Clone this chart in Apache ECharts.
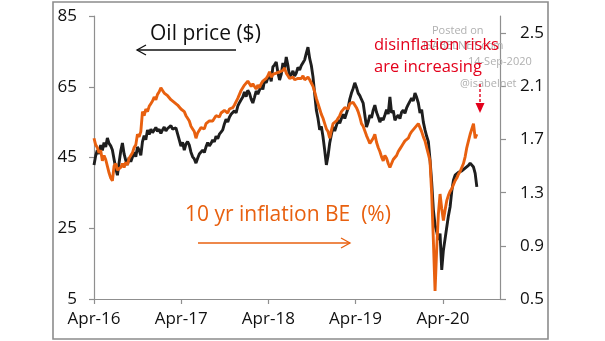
<!DOCTYPE html>
<html>
<head>
<meta charset="utf-8">
<script src="https://cdn.jsdelivr.net/npm/echarts@6/dist/echarts.min.js"></script>
<style>
  html, body { margin: 0; padding: 0; background: #fff; }
  #chart { width: 605px; height: 341px; }
</style>
</head>
<body>
<div id="chart"></div>
<script>
// Weekly observations starting on the first week of April 2016
const seriesStart = '2016-04-01';

// WTI oil price, US$ (left axis)
const oilPrice = [
  42.9, 45.5, 47.1, 46.0, 48.5, 47.0, 49.2, 48.0, 50.5, 49.0,
  48.3, 47.1, 44.5, 42.0, 40.0, 43.5, 46.8, 49.1, 46.0, 44.2,
  42.9, 45.0, 43.8, 44.3, 46.5, 45.2, 48.0, 47.1, 45.6, 49.5,
  51.2, 50.0, 52.8, 51.5, 53.0, 52.0, 52.2, 53.5, 52.4, 53.0,
  51.8, 52.8, 53.6, 52.5, 53.2, 52.8, 54.0, 53.0, 52.6, 53.4,
  53.6, 50.0, 48.2, 49.3, 47.1, 48.8, 49.5, 48.5, 46.5, 45.2,
  44.6, 43.4, 44.8, 46.0, 45.5, 47.1, 46.4, 48.0, 49.2, 48.3,
  49.0, 50.0, 49.4, 51.0, 50.3, 51.6, 52.2, 52.8, 54.5, 55.8,
  55.0, 56.4, 57.2, 56.8, 58.2, 57.6, 59.5, 60.5, 61.3, 62.1,
  63.5, 62.2, 64.0, 63.2, 61.5, 60.4, 62.0, 63.8, 62.9, 64.1,
  65.5, 64.2, 66.8, 66.1, 67.5, 68.5, 66.5, 70.6, 71.2, 72.0,
  69.0, 66.9, 68.5, 71.7, 70.0, 73.4, 71.0, 67.8, 68.4, 69.5,
  68.0, 68.9, 70.5, 69.7, 71.0, 71.8, 72.6, 74.5, 76.2, 73.0,
  71.0, 67.8, 63.0, 58.4, 56.0, 52.8, 53.8, 50.8, 47.0, 42.9,
  45.5, 49.1, 51.5, 53.6, 52.5, 54.0, 55.5, 54.7, 56.0, 57.2,
  56.0, 56.4, 59.0, 61.5, 63.2, 64.5, 66.1, 64.8, 63.2, 62.5,
  61.4, 60.4, 57.0, 53.6, 55.0, 57.0, 56.2, 58.4, 59.8, 57.8,
  56.5, 55.0, 56.2, 55.6, 57.0, 58.5, 57.3, 62.1, 57.6, 58.3,
  55.5, 56.4, 57.0, 56.0, 57.8, 58.4, 57.5, 59.0, 60.0, 60.4,
  61.8, 61.0, 63.2, 62.0, 60.4, 57.6, 58.5, 55.0, 52.8, 51.0,
  49.5, 44.3, 38.0, 30.2, 25.9, 24.0, 21.7, 23.5, 13.2, 18.8,
  22.0, 25.3, 28.5, 31.0, 35.5, 38.6, 40.0, 39.5, 40.8, 40.6,
  41.2, 41.5, 42.0, 42.3, 42.8, 43.4, 43.0, 42.3, 40.5, 36.7
];

// 10-year inflation breakeven, % (right axis)
const inflationBE = [
  1.71, 1.66, 1.64, 1.60, 1.62, 1.54, 1.58, 1.55, 1.56, 1.45,
  1.41, 1.39, 1.50, 1.52, 1.47, 1.46, 1.49, 1.52, 1.49, 1.53,
  1.51, 1.56, 1.58, 1.60, 1.64, 1.66, 1.74, 1.72, 1.76, 1.91,
  1.88, 1.93, 1.91, 1.95, 1.97, 1.99, 2.02, 2.00, 2.04, 2.06,
  2.09, 2.07, 2.05, 2.06, 2.03, 2.04, 2.00, 2.01, 1.98, 1.99,
  1.96, 1.97, 1.93, 1.94, 1.91, 1.88, 1.86, 1.84, 1.80, 1.78,
  1.76, 1.71, 1.75, 1.77, 1.79, 1.80, 1.78, 1.82, 1.81, 1.84,
  1.83, 1.84, 1.86, 1.88, 1.89, 1.87, 1.90, 1.89, 1.92, 1.91,
  1.90, 1.93, 1.92, 1.94, 1.96, 1.97, 2.01, 2.04, 2.07, 2.09,
  2.11, 2.12, 2.14, 2.12, 2.10, 2.12, 2.10, 2.08, 2.11, 2.09,
  2.12, 2.14, 2.13, 2.16, 2.18, 2.21, 2.17, 2.19, 2.18, 2.20,
  2.19, 2.21, 2.20, 2.22, 2.24, 2.20, 2.18, 2.16, 2.15, 2.17,
  2.15, 2.14, 2.16, 2.15, 2.16, 2.18, 2.15, 2.16, 2.17, 2.15,
  2.14, 2.10, 2.06, 2.01, 1.97, 1.93, 1.89, 1.86, 1.82, 1.78,
  1.76, 1.71, 1.77, 1.82, 1.81, 1.84, 1.86, 1.88, 1.91, 1.90,
  1.94, 1.95, 1.93, 1.97, 1.96, 1.98, 1.97, 1.94, 1.91, 1.87,
  1.82, 1.80, 1.79, 1.73, 1.70, 1.67, 1.69, 1.71, 1.74, 1.68,
  1.64, 1.61, 1.57, 1.54, 1.58, 1.56, 1.52, 1.49, 1.52, 1.55,
  1.54, 1.58, 1.61, 1.63, 1.65, 1.67, 1.69, 1.68, 1.71, 1.74,
  1.76, 1.77, 1.79, 1.80, 1.82, 1.79, 1.76, 1.72, 1.69, 1.64,
  1.59, 1.54, 1.29, 0.94, 0.56, 0.88, 1.14, 1.29, 1.18, 1.09,
  1.17, 1.24, 1.28, 1.31, 1.33, 1.36, 1.39, 1.41, 1.44, 1.46,
  1.49, 1.52, 1.57, 1.64, 1.69, 1.74, 1.78, 1.82, 1.71, 1.74
];

// Axis tick labels
const oilTicks = [5, 25, 45, 65, 85];
const beTicks = [0.5, 0.9, 1.3, 1.7, 2.1, 2.5];
const dateTicks = ['2016-04-01', '2017-04-01', '2018-04-01', '2019-04-01', '2020-04-01'];
const axisEnd = '2020-11-26';

const MONTHS = ['Jan','Feb','Mar','Apr','May','Jun','Jul','Aug','Sep','Oct','Nov','Dec'];
const WEEK = 7 * 86400000;
const t0 = Date.parse(seriesStart);
const toPairs = arr => arr.map((v, i) => [t0 + i * WEEK, v]);
const tickTimes = dateTicks.map(d => Date.parse(d));

const FONT = '"Open Sans", "Liberation Sans", sans-serif';
const AXIS_GREY = '#8f8f8f';
const ORANGE = '#E8600F';
const RED = '#E3001B';

const chart = echarts.init(document.getElementById('chart'), null, { renderer: 'canvas' });

chart.setOption({
  animation: false,
  backgroundColor: '#fff',
  grid: { left: 94, right: 105, top: 16, bottom: 42, containLabel: false },
  xAxis: {
    type: 'value',
    min: t0,
    max: Date.parse(axisEnd),
    splitLine: { show: false },
    axisLine: { show: true, lineStyle: { color: AXIS_GREY, width: 1.2 } },
    axisTick: { show: true, customValues: tickTimes, length: 5, lineStyle: { color: AXIS_GREY, width: 1.2 } },
    axisLabel: {
      customValues: tickTimes,
      margin: 12,
      color: '#111',
      fontFamily: FONT,
      fontSize: 17,
      formatter: v => {
        const d = new Date(v);
        return MONTHS[d.getUTCMonth()] + '-' + String(d.getUTCFullYear()).slice(2);
      }
    }
  },
  yAxis: [
    {
      type: 'value',
      position: 'left',
      min: 5,
      max: 85,
      splitLine: { show: false },
      axisLine: { show: true, lineStyle: { color: AXIS_GREY, width: 1.2 } },
      axisTick: { show: true, customValues: oilTicks, length: 5, lineStyle: { color: AXIS_GREY, width: 1.2 } },
      axisLabel: { customValues: oilTicks, margin: 17, color: '#111', fontFamily: FONT, fontSize: 17 }
    },
    {
      type: 'value',
      position: 'right',
      min: 0.5,
      max: 2.63,
      splitLine: { show: false },
      axisLine: { show: true, lineStyle: { color: AXIS_GREY, width: 1.2 } },
      axisTick: { show: true, customValues: beTicks, length: 6, lineStyle: { color: AXIS_GREY, width: 1.2 } },
      axisLabel: {
        customValues: beTicks, margin: 20, color: '#111', fontFamily: FONT, fontSize: 17,
        formatter: v => v.toFixed(1)
      }
    }
  ],
  series: [
    {
      name: 'Oil price ($)',
      type: 'line',
      yAxisIndex: 0,
      data: toPairs(oilPrice),
      showSymbol: false,
      lineStyle: { color: '#1e1e1e', width: 2.9 },
      z: 3
    },
    {
      name: '10 yr inflation BE (%)',
      type: 'line',
      yAxisIndex: 1,
      data: toPairs(inflationBE),
      showSymbol: false,
      lineStyle: { color: ORANGE, width: 2.9 },
      z: 4
    }
  ],
  graphic: [
    // frame around the whole figure
    { type: 'rect', z: 0, shape: { x: 53, y: 2, width: 495, height: 337 },
      style: { fill: 'none', stroke: '#8c8c8c', lineWidth: 1.6 } },

    // watermark
    { type: 'text', z: 1, x: 432, y: 31, style: { text: 'Posted on', font: '11px ' + FONT, fill: '#b0b0b0', verticalAlign: 'middle' } },
    { type: 'text', z: 1, x: 423, y: 46, style: { text: 'ISABELNET.com', font: '11px ' + FONT, fill: '#b0b0b0', verticalAlign: 'middle' } },
    { type: 'text', z: 1, x: 468, y: 62, style: { text: '14-Sep-2020', font: '11px ' + FONT, fill: '#b0b0b0', verticalAlign: 'middle' } },
    { type: 'text', z: 1, x: 460, y: 84, style: { text: '@isabelnet', font: '11px ' + FONT, fill: '#b0b0b0', verticalAlign: 'middle' } },

    // oil label with arrow pointing to the left axis
    { type: 'text', z: 10, x: 150, y: 34, style: { text: 'Oil price ($)', font: '21px ' + FONT, fill: '#111', verticalAlign: 'middle' } },
    { type: 'line', z: 10, shape: { x1: 137, y1: 50, x2: 236, y2: 50 }, style: { stroke: '#111', lineWidth: 1.3 } },
    { type: 'polyline', z: 10, shape: { points: [[146, 45], [137, 50], [146, 55]] }, style: { stroke: '#111', lineWidth: 1.3, fill: 'none' } },

    // breakeven label with arrow pointing to the right axis
    { type: 'text', z: 10, x: 185, y: 215, style: { text: '10 yr inflation BE  (%)', font: '21px ' + FONT, fill: ORANGE, verticalAlign: 'middle' } },
    { type: 'line', z: 10, shape: { x1: 198, y1: 243, x2: 350, y2: 243 }, style: { stroke: ORANGE, lineWidth: 1.3 } },
    { type: 'polyline', z: 10, shape: { points: [[341, 238], [350, 243], [341, 248]] }, style: { stroke: ORANGE, lineWidth: 1.3, fill: 'none' } },

    // call-out
    { type: 'text', z: 10, x: 374, y: 45, style: { text: 'disinflation risks', font: '16.5px ' + FONT, fill: RED, verticalAlign: 'middle' } },
    { type: 'text', z: 10, x: 374, y: 67, style: { text: 'are increasing', font: '16.5px ' + FONT, fill: RED, verticalAlign: 'middle' } },
    { type: 'line', z: 10, shape: { x1: 480, y1: 84, x2: 480, y2: 104 }, style: { stroke: RED, lineWidth: 1.4, lineDash: [3, 2] } },
    { type: 'polygon', z: 10, shape: { points: [[475.5, 103], [484.5, 103], [480, 113]] }, style: { fill: RED } }
  ]
});
</script>
</body>
</html>
